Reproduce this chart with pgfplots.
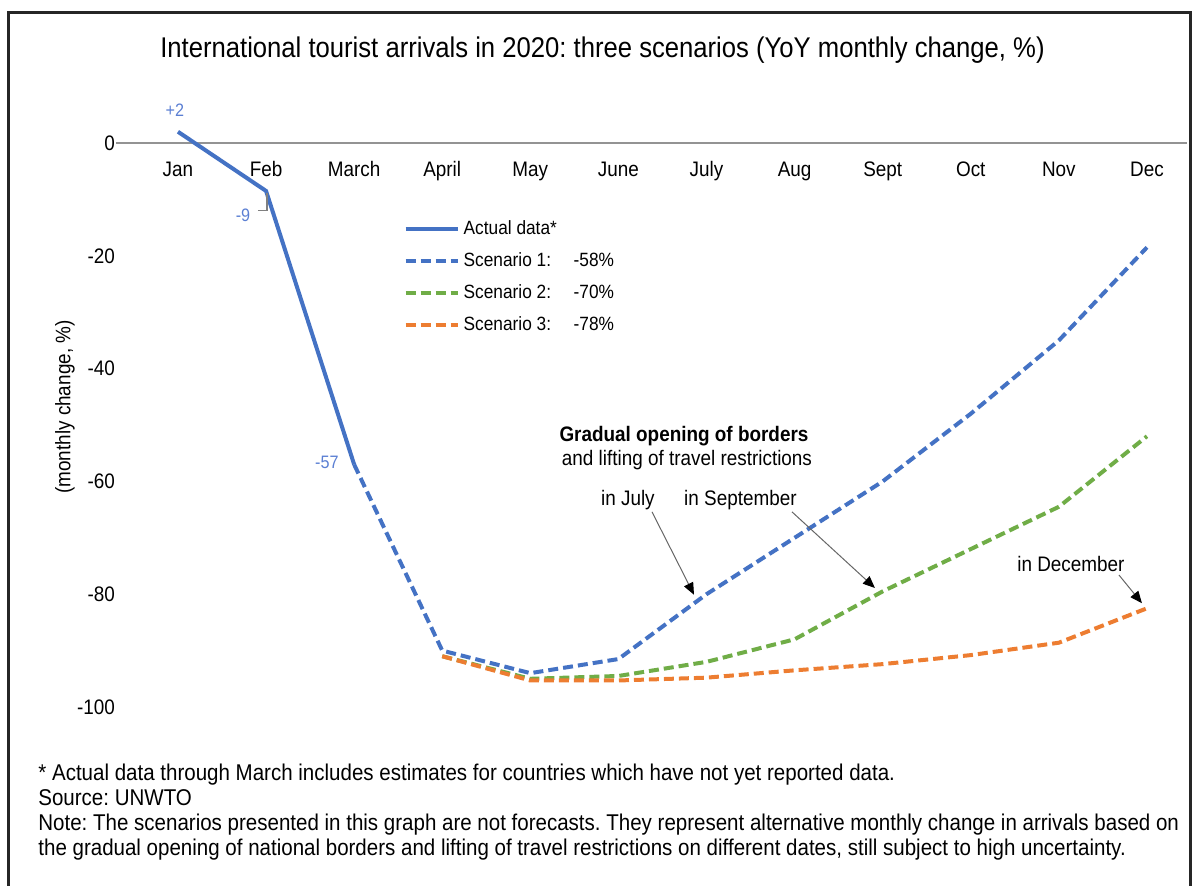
\documentclass[border=0pt]{standalone}
\usepackage{fontspec}
\setmainfont{Liberation Sans}[FakeStretch=0.9]
\usepackage{pgfplots}
\pgfplotsset{compat=1.18}
\usetikzlibrary{arrows.meta}
\definecolor{cblue}{HTML}{4472C4}
\definecolor{cgreen}{HTML}{70AD47}
\definecolor{corange}{HTML}{ED7D31}
\definecolor{lblue}{HTML}{5B7FD3}
\frenchspacing
\begin{document}
\begin{tikzpicture}
\begin{scope}[x=0.5pt,y=0.5pt]
\path[use as bounding box] (0,0) rectangle (1198,885);
\draw[line width=1.5pt, black!85] (8,-5) -- (8,872) -- (1190,872) -- (1190,-5);
\node[font=\fontsize{14.25}{16}\selectfont] at (602.5,835) {International tourist arrivals in 2020: three scenarios (YoY monthly change, \%)};
\node[rotate=90, font=\fontsize{10.5}{12}\selectfont] at (65,478) {(monthly change, \%)};
\node[anchor=base west, inner sep=0pt, font=\fontsize{11.4}{13}\selectfont] at (38,105) {* Actual data through March includes estimates for countries which have not yet reported data.};
\node[anchor=base west, inner sep=0pt, font=\fontsize{11.4}{13}\selectfont] at (38,80) {Source: UNWTO};
\node[anchor=base west, inner sep=0pt, font=\fontsize{11.4}{13}\selectfont] at (38,55) {Note: The scenarios presented in this graph are not forecasts. They represent alternative monthly change in arrivals based on};
\node[anchor=base west, inner sep=0pt, font=\fontsize{11.4}{13}\selectfont] at (38,30) {the gradual opening of national borders and lifting of travel restrictions on different dates, still subject to high uncertainty.};
\end{scope}
\begin{axis}[
  at={(58.15pt,66.45pt)}, anchor=south west,
  scale only axis, width=535.15pt, height=327.1pt,
  xmin=-0.7, xmax=11.45, ymin=-108, ymax=8,
  axis x line=middle, axis y line=left,
  hide obscured x ticks=false, hide obscured y ticks=false,
  x axis line style={-, draw=gray!85, line width=1pt},
  y axis line style={draw=none},
  xtick={0,1,2,3,4,5,6,7,8,9,10,11},
  xticklabels={Jan,Feb,March,April,May,June,July,Aug,Sept,Oct,Nov,Dec},
  ytick={-100,-80,-60,-40,-20,0},
  yticklabels={-100,-80,-60,-40,-20,0},
  major tick length=0pt,
  tick label style={font=\fontsize{10.5}{12}\selectfont},
  xticklabel style={anchor=north, text height=7.8pt, text depth=2pt, yshift=-5.3pt},
  yticklabel style={inner sep=0pt, xshift=-0.5pt},
  clip=false,
  legend style={at={(axis cs:2.49,-12.2)}, anchor=north west, draw=none, fill=none,
    font=\fontsize{9.6}{11}\selectfont, row sep=3.6pt},
  legend cell align=left,
  legend image code/.code={\draw[#1] (-2pt,0pt) -- (24pt,0pt);},
]
% legend entries
\addlegendimage{cblue, line width=2pt}
\addlegendentry{Actual data*}
\addlegendimage{cblue, line width=2pt, dash pattern=on 5pt off 2.5pt}
\addlegendentry{\makebox[55pt][l]{Scenario 1:}-58\%}
\addlegendimage{cgreen, line width=2pt, dash pattern=on 5pt off 2.5pt}
\addlegendentry{\makebox[55pt][l]{Scenario 2:}-70\%}
\addlegendimage{corange, line width=2pt, dash pattern=on 5pt off 2.5pt}
\addlegendentry{\makebox[55pt][l]{Scenario 3:}-78\%}
% Scenario 2
\addplot[forget plot, cgreen, line width=2pt, dash pattern=on 5pt off 2.5pt] coordinates {
(3,-91) (4,-95) (5,-94.5) (6,-92) (7,-88) (8,-79.5) (9,-72) (10,-64.5) (11,-52)};
% Scenario 3
\addplot[forget plot, corange, line width=2pt, dash pattern=on 5pt off 2.5pt] coordinates {
(3,-91) (4,-95.3) (5,-95.3) (6,-94.8) (7,-93.5) (8,-92.4) (9,-90.8) (10,-88.6) (11,-82.5)};
% Scenario 1
\addplot[forget plot, cblue, line width=2pt, dash pattern=on 5pt off 2.5pt] coordinates {
(2,-57) (3,-90) (4,-94) (5,-91.5) (6,-80) (7,-70) (8,-60) (9,-48) (10,-35) (11,-18.5)};
% Actual
\addplot[forget plot, cblue, line width=2pt] coordinates {(0,2) (1,-8.5) (2,-57)};
% data labels
\node[lblue, font=\fontsize{9}{10}\selectfont] at (axis cs:-0.034,5.85) {+2};
\node[lblue, font=\fontsize{9}{10}\selectfont] at (axis cs:0.738,-12.77) {-9};
\node[lblue, font=\fontsize{9}{10}\selectfont] at (axis cs:1.691,-56.7) {-57};
\draw[gray, line width=0.6pt] (axis cs:0.908,-11.9) -- (axis cs:1.01,-11.9) -- (axis cs:1.01,-8.9);
% annotations
\node[font=\bfseries\fontsize{10.5}{12}\selectfont] at (axis cs:5.744,-51.95) {Gradual opening of borders};
\node[font=\fontsize{10.5}{12}\selectfont] at (axis cs:5.778,-56.2) {and lifting of travel restrictions};
\node[font=\fontsize{10.5}{12}\selectfont] at (axis cs:5.108,-63.3) {in July};
\node[font=\fontsize{10.5}{12}\selectfont] at (axis cs:6.385,-63.3) {in September};
\node[font=\fontsize{10.5}{12}\selectfont] at (axis cs:10.137,-74.6) {in December};
\draw[gray!80!black, line width=0.5pt, -{Triangle[length=6pt,width=5pt,color=black,fill=black]}] (axis cs:5.381,-65.4) -- (axis cs:5.858,-80.1);
\draw[gray!80!black, line width=0.5pt, -{Triangle[length=6pt,width=5pt,color=black,fill=black]}] (axis cs:6.970,-65.4) -- (axis cs:7.912,-78.9);
\draw[gray!80!black, line width=0.5pt, -{Triangle[length=6pt,width=5pt,color=black,fill=black]}] (axis cs:10.682,-76.6) -- (axis cs:10.943,-81.6);
\end{axis}
\end{tikzpicture}
\end{document}
